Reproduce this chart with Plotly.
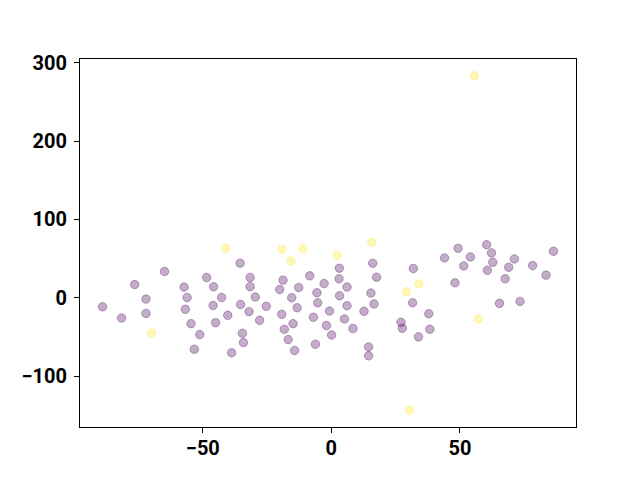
import plotly.graph_objects as go

# Class 0 (purple) points
purple_x = [-35.5, -64.9, -48.5, -31.6, -76.5, -57.3, -45.8, -31.6, -72.1, -56.1, -42.7, -35.3, -89.0,
            -46.0, -56.8, -32.0, -40.3, -72.1, -81.6, -54.6, -45.0, -51.2, -34.6, -34.2, -53.3, -38.8,
            16.1, 3.1, -8.4, 3.0, 17.6, -18.8, -12.7, -2.8, 6.1, -20.1, -5.6, 15.4, -29.6, -15.4, 3.2,
            -25.3, -5.3, 6.1, 16.6, -13.3, -19.3, -0.7, 12.7, -7.0, 5.1, -27.9, -14.9, -1.9, 8.4, -18.3,
            27.1, 27.6, -16.8, 0.1, -6.2, -14.3, 14.5, 14.5,
            31.9, 31.6, 37.9, 38.3, 33.9, 44.0, 49.3, 54.1, 51.5, 48.1, 60.4, 62.3, 62.8, 60.7, 71.2,
            69.0, 67.6, 78.3, 86.4, 83.5, 65.4, 73.4]
purple_y = [44.1, 33.5, 25.8, 26.0, 16.9, 13.6, 14.0, 14.2, -1.7, 0.4, 0.4, -8.5, -11.5,
            -9.8, -14.8, -17.8, -22.5, -20.0, -25.9, -33.1, -31.8, -47.1, -45.4, -57.3, -65.8, -70.4,
            44.1, 37.8, 28.0, 24.2, 26.3, 22.5, 13.1, 18.2, 13.6, 10.6, 6.4, 6.0, 0.9, 0.0, 2.5,
            -11.0, -6.4, -10.2, -8.0, -12.7, -21.2, -17.0, -17.4, -25.0, -27.1, -28.8, -33.1, -35.6, -39.4, -40.3,
            -31.4, -39.0, -53.4, -47.5, -59.4, -67.4, -62.8, -74.2,
            37.3, -6.4, -20.4, -40.3, -50.0, 50.9, 63.2, 52.2, 40.7, 19.1, 67.8, 57.3, 45.4, 35.2, 49.6,
            39.0, 24.2, 41.1, 59.4, 28.9, -7.2, -4.7]

# Class 1 (yellow) points
yellow_x = [-41.1, -69.9, -19.2, -11.0, -15.7, 2.2, 15.7, 29.2, 34.1, 57.2, 55.6, 30.4]
yellow_y = [63.2, -45.0, 62.0, 62.7, 47.1, 54.3, 70.9, 7.6, 17.8, -27.1, 283.7, -143.8]

x_ticks = [-50, 0, 50]
y_ticks = [-100, 0, 100, 200, 300]

all_x = purple_x + yellow_x
all_y = purple_y + yellow_y
xspan = max(all_x) - min(all_x)
yspan = max(all_y) - min(all_y)
xr = [min(all_x) - 0.05 * xspan, max(all_x) + 0.05 * xspan]
yr = [min(all_y) - 0.05 * yspan, max(all_y) + 0.05 * yspan]

fig = go.Figure()
fig.add_trace(go.Scatter(
    x=purple_x, y=purple_y, mode="markers",
    marker=dict(size=8.5, color="rgba(68,1,84,0.32)",
                line=dict(color="rgba(68,1,84,0.32)", width=1)),
    showlegend=False))
fig.add_trace(go.Scatter(
    x=yellow_x, y=yellow_y, mode="markers",
    marker=dict(size=8.5, color="rgba(253,231,37,0.32)",
                line=dict(color="rgba(253,231,37,0.32)", width=1)),
    showlegend=False))

axis_common = dict(showgrid=False, zeroline=False, showline=True, linecolor="black", linewidth=1,
                   mirror=True, ticks="outside", ticklen=5, tickwidth=1, tickcolor="black",
                   tickfont=dict(family="Roboto", size=20, color="black", weight="bold"))

fig.update_layout(
    width=640, height=480,
    margin=dict(l=72, r=72, t=51, b=61),
    paper_bgcolor="white", plot_bgcolor="white",
    xaxis=dict(range=xr, tickvals=x_ticks, ticklabelstandoff=-2, **axis_common),
    yaxis=dict(range=yr, tickvals=y_ticks, ticklabelstandoff=3, **axis_common),
)

fig.write_html("out.html")
